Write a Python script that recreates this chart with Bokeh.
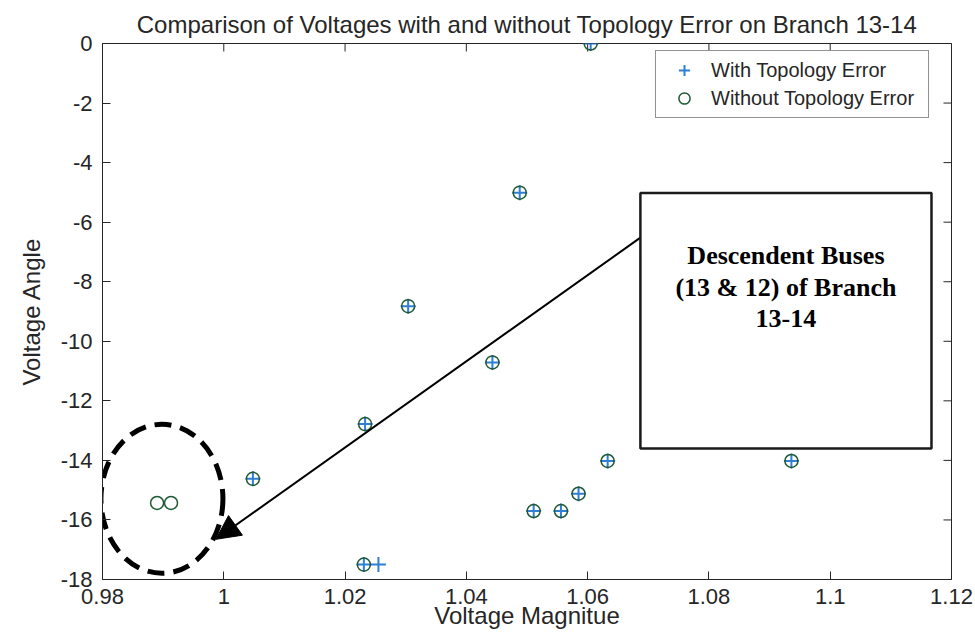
from bokeh.plotting import figure
from bokeh.models import (Range1d, FixedTicker, CustomJSTickFormatter,
                          BoxAnnotation, Label, Arrow, NormalHead, Legend, LegendItem)
from bokeh.embed import file_html
from bokeh.resources import INLINE
import math

# ---------------- data ----------------
title_text = "Comparison of Voltages with and without Topology Error on Branch 13-14"
x_label = "Voltage Magnitue"
y_label = "Voltage Angle"
series_names = ["With Topology Error", "Without Topology Error"]

with_vm = [1.0605, 1.0488, 1.0304, 1.0443, 1.0233, 1.0048, 1.0633, 1.0936,
           1.0585, 1.0511, 1.0556, 1.0231, 1.0255]
with_va = [0.0, -5.01, -8.82, -10.71, -12.78, -14.62, -14.02, -14.02,
           -15.12, -15.70, -15.70, -17.50, -17.50]

without_vm = [1.0605, 1.0488, 1.0304, 1.0443, 1.0233, 1.0048, 1.0633, 1.0936,
              1.0585, 1.0511, 1.0556, 1.0231, 0.9890, 0.9913]
without_va = [0.0, -5.01, -8.82, -10.71, -12.78, -14.62, -14.02, -14.02,
              -15.12, -15.70, -15.70, -17.50, -15.43, -15.43]

x_ticks = [0.98, 1.0, 1.02, 1.04, 1.06, 1.08, 1.1, 1.12]
x_tick_labels = ["0.98", "1", "1.02", "1.04", "1.06", "1.08", "1.1", "1.12"]
y_ticks = [-18, -16, -14, -12, -10, -8, -6, -4, -2, 0]
y_tick_labels = ["-18", "-16", "-14", "-12", "-10", "-8", "-6", "-4", "-2", "0"]

note_lines = ["Descendent Buses", "(13 & 12) of Branch", "13-14"]

# annotation geometry (data units)
note_box = dict(left=1.0687, right=1.1167, top=-5.02, bottom=-13.6)
note_text_x = 1.0927
note_text_y = [-7.11, -8.18, -9.24]
arrow_start = (1.0687, -6.52)
arrow_end = (0.9987, -16.65)
ring_center = (0.9898, -15.29)

x_min, x_max = 0.98, 1.12
y_min, y_max = -18, 0

# ---------------- figure ----------------
INK = "#262626"
p = figure(width=975, height=637, output_backend="svg", toolbar_location=None,
           x_range=Range1d(x_min, x_max), y_range=Range1d(y_min, y_max),
           min_border_left=102, min_border_right=24, min_border_top=43,
           min_border_bottom=58, background_fill_color="white",
           border_fill_color="white")
p.grid.visible = False
p.outline_line_color = INK
p.outline_line_width = 1

p.title.text = title_text
p.title.align = "center"
p.title.text_font = "Liberation Sans"
p.title.text_font_size = "24px"
p.title.text_font_style = "normal"
p.title.text_color = INK
p.title.standoff = 11

xa = p.xaxis[0]
xa.ticker = FixedTicker(ticks=x_ticks)
xa.formatter = CustomJSTickFormatter(args=dict(labels=x_tick_labels),
                                     code="return labels[index];")
ya = p.yaxis[0]
ya.ticker = FixedTicker(ticks=y_ticks)
ya.formatter = CustomJSTickFormatter(args=dict(labels=y_tick_labels),
                                     code="return labels[index];")

for ax in (xa, ya):
    ax.major_tick_in = 8
    ax.major_tick_out = 0
    ax.minor_tick_line_color = None
    ax.axis_line_color = INK
    ax.major_tick_line_color = INK
    ax.major_label_text_font = "Liberation Sans"
    ax.major_label_text_font_size = "22px"
    ax.major_label_text_color = INK
    ax.axis_label_text_font = "Liberation Sans"
    ax.axis_label_text_font_size = "24px"
    ax.axis_label_text_font_style = "normal"
    ax.axis_label_text_color = INK

xa.axis_label = x_label
xa.major_label_standoff = 9
xa.axis_label_standoff = -5
ya.axis_label = y_label
ya.major_label_standoff = 10
ya.axis_label_standoff = 13

# inward ticks on the top and right edges of the box (clipped to the frame)
p.scatter(x=x_ticks, y=[y_max] * len(x_ticks), marker="dash", size=16,
          angle=math.pi / 2, line_color=INK, line_width=1)
p.scatter(x=[x_max] * len(y_ticks), y=y_ticks, marker="dash", size=16,
          angle=0, line_color=INK, line_width=1)

# ---------------- data marks ----------------
r_with = p.scatter(with_vm, with_va, marker="cross", size=15, line_width=2,
                   line_color="#2f7fd6")
r_without = p.scatter(without_vm, without_va, marker="circle", size=13,
                      line_width=1.5, line_color="#1f5a34", fill_color=None)

# ---------------- annotations ----------------
p.ellipse(x=[ring_center[0]], y=[ring_center[1]], width=122, height=149,
          width_units="screen", height_units="screen", fill_color=None,
          line_color="black", line_width=5, line_dash="17 9")

p.add_layout(Arrow(end=NormalHead(size=24, fill_color="black", line_color="black"),
                   x_start=arrow_start[0], y_start=arrow_start[1],
                   x_end=arrow_end[0], y_end=arrow_end[1],
                   line_width=2, line_color="black"))

p.add_layout(BoxAnnotation(left=note_box["left"], right=note_box["right"],
                           top=note_box["top"], bottom=note_box["bottom"],
                           fill_color="white", fill_alpha=1.0,
                           line_color="#1a1a1a", line_width=2.5, line_alpha=1.0))

for txt, ty in zip(note_lines, note_text_y):
    p.add_layout(Label(x=note_text_x, y=ty, text=txt, text_align="center",
                       text_baseline="middle", text_font="Liberation Serif",
                       text_font_style="bold", text_font_size="26px",
                       text_color="black"))

# ---------------- legend ----------------
legend = Legend(items=[LegendItem(label=series_names[0], renderers=[r_with]),
                       LegendItem(label=series_names[1], renderers=[r_without])],
                location=(553, 461), padding=5, spacing=0, margin=0,
                glyph_width=46, glyph_height=28, label_height=28,
                label_width=212, label_standoff=4,
                label_text_font="Liberation Sans", label_text_font_size="20px",
                label_text_color=INK, border_line_color=INK, border_line_width=1,
                background_fill_color="white", background_fill_alpha=1.0)
p.add_layout(legend)

open("out.html", "w").write(file_html(p, INLINE))
